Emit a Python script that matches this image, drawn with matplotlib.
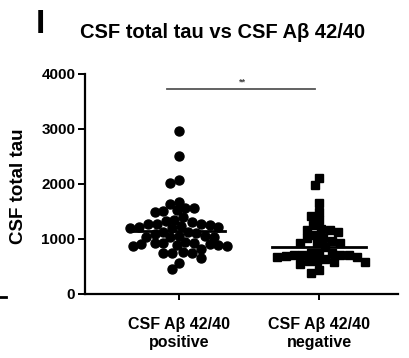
import numpy as np
import matplotlib.pyplot as plt
from matplotlib.lines import Line2D

plt.rcParams['font.family'] = ['Liberation Sans', 'DejaVu Sans']
plt.rcParams['font.weight'] = 'bold'

groups = ['CSF A\u03b2 42/40\npositive', 'CSF A\u03b2 42/40\nnegative']

positive = [2969, 2509, 2024, 2073, 1527, 1564, 1515, 1564, 1642, 1679, 1497, 1406,
            1345, 1273, 1236, 1327, 1273, 1224, 1315, 1255, 1194, 1194, 1224, 1267,
            1055, 1133, 1042, 1103, 1133, 1091, 1042, 1030, 1055,
            873, 909, 933, 873, 891, 933, 909, 933, 952, 891,
            770, 752, 739, 739, 812, 648, 570, 449]
negative = [2115, 1982, 1648, 1497, 1345, 1418, 1255, 1182, 1164, 1164, 1073, 1133,
            1012, 1012, 964, 921, 921, 921, 848,
            709, 739, 709, 752, 709, 752, 709, 691, 606, 630, 667, 667,
            545, 588, 606, 588, 436, 376]
medians = [1151, 861]

fig = plt.figure(figsize=(4.09, 3.58), dpi=100)
ax = fig.add_axes([0.2078, 0.1788, 0.765, 0.6145])
ax.set_xlim(-0.667, 1.56)
ax.set_ylim(0, 4000)
ax.set_yticks([0, 1000, 2000, 3000, 4000])
ax.set_xticks([0, 1])
ax.set_xticklabels(groups, fontsize=11.5, fontweight='bold', linespacing=1.25)
ax.tick_params(axis='y', labelsize=11, width=1.4, length=5, pad=2)
ax.tick_params(axis='x', width=1.4, length=4.5, pad=12)
for lab in ax.get_yticklabels():
    lab.set_fontweight('bold')
ax.spines['top'].set_visible(False)
ax.spines['right'].set_visible(False)
ax.spines['left'].set_linewidth(1.6)
ax.spines['bottom'].set_linewidth(1.6)
ax.set_ylabel('CSF total tau', fontsize=13.5, fontweight='bold')
ax.yaxis.set_label_coords(-0.185, 0.49)


def swarm(center, vals, diam):
    # simple beeswarm in pixel space
    fig.canvas.draw()
    tr = ax.transData
    cx = tr.transform((center, 0))[0]
    pts = []
    order = np.argsort(vals)[::-1]
    xs = np.zeros(len(vals))
    for i in order:
        py = tr.transform((center, vals[i]))[1]
        best = None
        for k in range(0, 60):
            for s in ([1] if k == 0 else [-1, 1]):
                off = s * k * diam * 0.25
                ok = all((off - qx) ** 2 + (py - qy) ** 2 >= (diam * 0.95) ** 2 for qx, qy in pts)
                if ok:
                    best = off
                    break
            if best is not None:
                break
        pts.append((best, py))
        inv = tr.inverted().transform((cx + best, py))
        xs[i] = inv[0]
    return xs


xp = swarm(0, positive, 8.8)
xn = swarm(1, negative, 8.4)
ax.plot(xp, positive, 'o', color='black', markersize=6.5, linestyle='none', clip_on=False)
ax.plot(xn, negative, 's', color='black', markersize=6.0, linestyle='none', clip_on=False)

for i, m in enumerate(medians):
    ax.plot([i - 0.333, i + 0.333], [m, m], color='black', linewidth=2)

ax.plot([-0.085, 0.972], [3730, 3730], color='#555555', linewidth=1.3)
ax.text(0.454, 3770, '**', ha='center', va='bottom', fontsize=6.5, color='#444444')

fig.text(0.543, 0.908, 'CSF total tau vs CSF A\u03b2 42/40', ha='center', va='center',
         fontsize=14.5, fontweight='bold')
fig.text(0.098, 0.932, 'I', ha='center', va='center', fontsize=24, fontweight='bold')
fig.add_artist(Line2D([0.0, 0.015], [0.17, 0.17], color='black', linewidth=2))

fig.savefig('out.png', dpi=100)
